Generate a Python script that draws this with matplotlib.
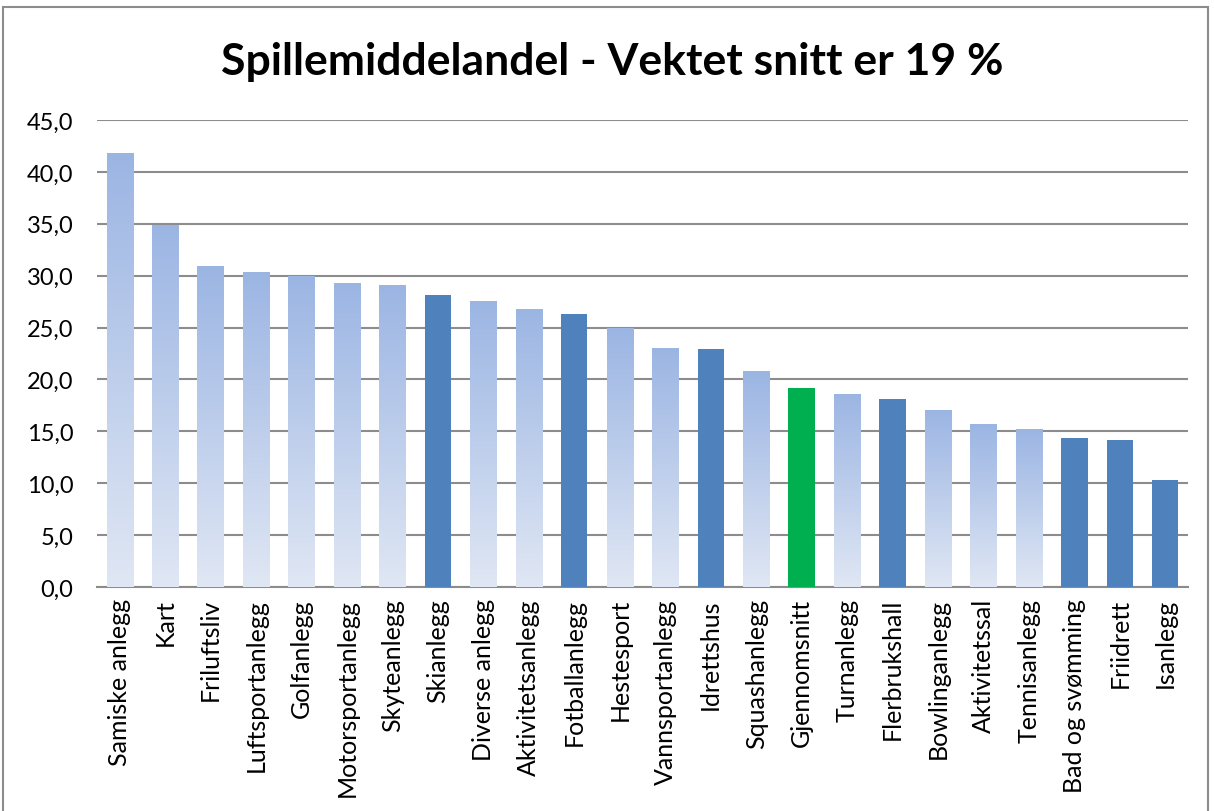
import numpy as np
import matplotlib.pyplot as plt
from matplotlib.colors import LinearSegmentedColormap
from matplotlib.patches import Rectangle

plt.rcParams['font.family'] = ['Lato', 'DejaVu Sans']

categories = ['Samiske anlegg', 'Kart', 'Friluftsliv', 'Luftsportanlegg', 'Golfanlegg',
              'Motorsportanlegg', 'Skyteanlegg', 'Skianlegg', 'Diverse anlegg',
              'Aktivitetsanlegg', 'Fotballanlegg', 'Hestesport', 'Vannsportanlegg',
              'Idrettshus', 'Squashanlegg', 'Gjennomsnitt', 'Turnanlegg', 'Flerbrukshall',
              'Bowlinganlegg', 'Aktivitetssal', 'Tennisanlegg', 'Bad og svømming',
              'Friidrett', 'Isanlegg']
values = [41.8, 34.9, 30.9, 30.4, 30.0, 29.3, 29.1, 28.1, 27.6, 26.8, 26.3, 25.0,
          23.0, 22.9, 20.8, 19.2, 18.6, 18.1, 17.1, 15.7, 15.2, 14.4, 14.2, 10.3]
# 'grad' = gradient fill, 'solid' = blue, 'avg' = green
styles = ['grad', 'grad', 'grad', 'grad', 'grad', 'grad', 'grad', 'solid', 'grad',
          'grad', 'solid', 'grad', 'grad', 'solid', 'grad', 'avg', 'grad', 'solid',
          'grad', 'grad', 'grad', 'solid', 'solid', 'solid']

fig = plt.figure(figsize=(12.14, 8.12), dpi=100)
ax = fig.add_axes([97 / 1214, 1 - 588 / 812, (1188 - 97) / 1214, (588 - 121) / 812])

grad_cmap = LinearSegmentedColormap.from_list('g', ['#e0e7f4', '#9bb5e3'])
grad_img = np.linspace(0, 1, 256).reshape(-1, 1)
x = np.arange(len(categories))
width = 0.58
for xi, v, s in zip(x, values, styles):
    if s == 'grad':
        bar = ax.bar(xi, v, width=width, color='none', zorder=3)[0]
        im = ax.imshow(grad_img, cmap=grad_cmap, origin='lower', aspect='auto',
                       extent=[xi - width / 2, xi + width / 2, 0, v], zorder=3)
        im.set_clip_path(bar)
    else:
        ax.bar(xi, v, width=width, color='#4f81bd' if s == 'solid' else '#00b050', zorder=3)

ax.set_xlim(-0.5, len(categories) - 0.5)
ax.set_ylim(0, 45)
ax.set_yticks(np.arange(0, 46, 5))
ax.set_yticklabels([f'{t:.1f}'.replace('.', ',') for t in np.arange(0, 46, 5)], fontsize=17)
ax.set_xticks(x)
ax.set_xticklabels(categories, rotation=90, fontsize=18)
ax.tick_params(axis='x', length=0, pad=8)
ax.tick_params(axis='y', length=0, pad=17)
ax.yaxis.grid(True, color='#8c8c8c', linewidth=1.5, zorder=0)
ax.set_axisbelow(True)
for sp in ['top', 'right', 'left']:
    ax.spines[sp].set_visible(False)
ax.spines['bottom'].set_color('#8c8c8c')
ax.spines['bottom'].set_linewidth(1.5)

fig.text(612 / 1214, 1 - 62 / 812, 'Spillemiddelandel - Vektet snitt er 19 %',
         ha='center', va='center', fontsize=32, fontweight='bold')

fig.patches.append(Rectangle((3 / 1214, -0.01), 1205 / 1214, 1 - 8 / 812 + 0.01,
                             transform=fig.transFigure, fill=False,
                             edgecolor='#8c8c8c', linewidth=1.5))

fig.savefig('out.png', dpi=100)
